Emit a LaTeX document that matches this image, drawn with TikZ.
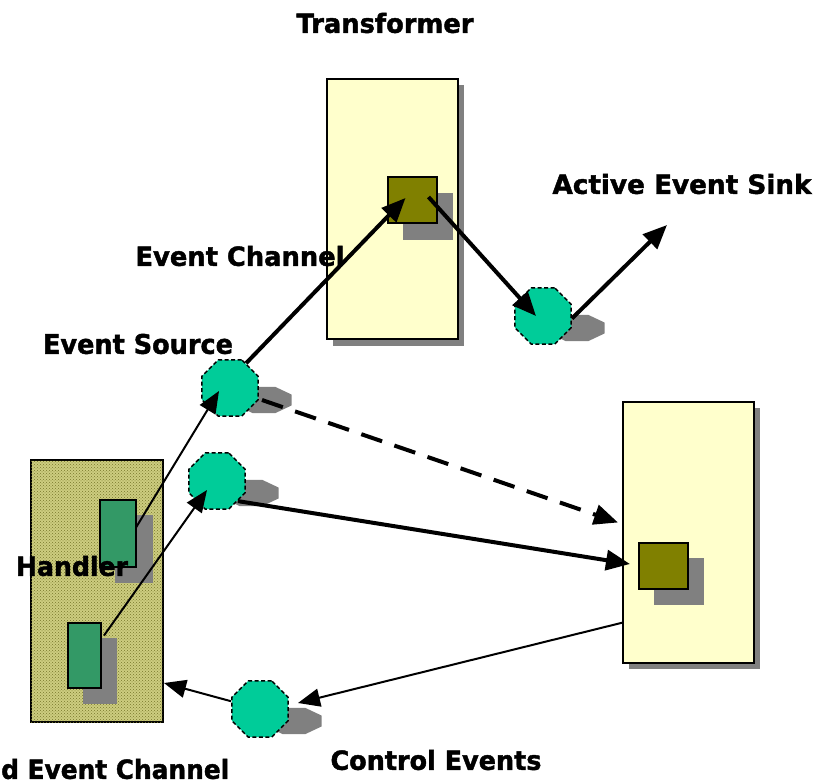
\documentclass[tikz,border=0pt]{standalone}
\usepackage{fontspec}
\setmainfont{DejaVu Sans}[BoldFeatures={FakeBold=1.6}]
\usetikzlibrary{shapes.geometric,arrows.meta,patterns,calc}
\definecolor{paleyellow}{HTML}{FFFFCC}
\definecolor{olivebox}{HTML}{808000}
\definecolor{portteal}{HTML}{00CC99}
\definecolor{handlergreen}{HTML}{339966}
\definecolor{shadowgray}{HTML}{808080}
\definecolor{channelfill}{HTML}{CDCD80}
\definecolor{channeldots}{HTML}{77772A}
% label set in a heavy face, stretched to a given width
\newcommand\lbl[2]{\resizebox{#1pt}{20pt}{\bfseries #2}}
% flattened octagonal drop shadow behind a port
\newcommand\portshadow[1]{%
  \fill[shadowgray, shift={#1}, yscale=0.47]
    (22.5:30) -- (67.5:30) -- (112.5:30) -- (157.5:30) -- (202.5:30)
    -- (247.5:30) -- (292.5:30) -- (337.5:30) -- cycle;}
\begin{document}
\begin{tikzpicture}[x=1pt,y=-1pt,
  box/.style={rectangle, draw=black, line width=1.6pt, inner sep=0pt, outer sep=0pt},
  component/.style={box, fill=paleyellow, minimum width=131pt, minimum height=260pt},
  filter/.style={box, fill=olivebox, minimum width=49pt, minimum height=46pt},
  handlerbox/.style={box, fill=handlergreen},
  port/.style={regular polygon, regular polygon sides=8, minimum size=61pt,
    inner sep=0pt, fill=portteal, draw=black, line width=1.5pt,
    dash pattern=on 4pt off 2.5pt},
  bigarrow/.style={line width=4pt, -{Triangle[length=24pt,width=20pt]}},
  smallarrow/.style={line width=2pt, -{Triangle[length=22pt,width=18pt]}},
  caption/.style={inner sep=0pt}]
\useasboundingbox (0,0) rectangle (815,784);

% drop shadows of the components
\fill[shadowgray] (333,85) rectangle (464,346);
\fill[shadowgray] (629,408) rectangle (760,669);

% transformer
\node[component] (trans) at (392.5,209) {};
\fill[shadowgray] (403,193) rectangle (453,240);
\node[filter] (sq1) at (412.5,200) {};

% consumer on the right
\node[component, minimum height=261pt] (rr) at (688.5,532.5) {};
\fill[shadowgray] (654,558) rectangle (704,605);
\node[filter] (sq2) at (663.5,566) {};

% shared event channel with its handlers
\node[box, minimum width=132pt, minimum height=262pt, fill=channelfill,
  postaction={pattern=crosshatch dots, pattern color=channeldots}] (lr) at (97,591) {};
\fill[shadowgray] (115,515) rectangle (153,583);
\node[handlerbox, minimum width=36pt, minimum height=67pt] (g1) at (118,533.5) {};
\fill[shadowgray] (83,638) rectangle (117,704);
\node[handlerbox, minimum width=33pt, minimum height=65pt] (g2) at (84.5,655.5) {};

% ports
\portshadow{(264,400)}
\portshadow{(251,493)}
\portshadow{(577,328)}
\portshadow{(294,721)}
\node[port] (o1) at (230,388) {};
\node[port] (o2) at (217,481) {};
\node[port] (o4) at (543,316) {};
\node[port] (o3) at (260,709) {};

% connector ends
\coordinate (t1) at ($(sq1.center)+(-7,-2)$);
\coordinate (s2) at ($(sq1.center)+(16,-3)$);
\coordinate (t2) at ($(o4.center)+(-7,0)$);
\coordinate (t3) at (667,225);
\coordinate (s4) at ($(o1.center)+(32,12)$);
\coordinate (t4) at ($(rr.west)+(-5,-10)$);
\coordinate (t5) at ($(sq2.west)+(-9,-2)$);
\coordinate (s6) at ($(g1.east)+(0,-6)$);
\coordinate (t6) at ($(o1.center)+(-11,3)$);
\coordinate (s7) at ($(g2.east)+(3,-20)$);
\coordinate (t7) at ($(o2.center)+(-10,9)$);
\coordinate (s8) at ($(rr.west)+(0,90)$);
\coordinate (t8) at ($(o3.center)+(38,-6)$);
\coordinate (t9) at ($(lr.east)+(1,92)$);

% event flow
\draw[bigarrow] (o1.57) -- (t1);
\draw[bigarrow] (s2) -- (t2);
\draw[bigarrow] (o4.-5) -- (t3);
\draw[bigarrow, dash pattern=on 22pt off 13pt] (s4) -- (t4);
\draw[bigarrow] (o2.-44) -- (t5);
\draw[smallarrow] (s6) -- (t6);
\draw[smallarrow] (s7) -- (t7);
\draw[smallarrow] (s8) -- (t8);
\draw[smallarrow] (o3.165) -- (t9);

% captions
\node[caption] (capTrans) at (385,23) {\lbl{177}{Transformer}};
\node[caption] (capSink) at (682,184) {\lbl{259}{Active Event Sink}};
\node[caption] (capChan) at (240,256) {\lbl{209}{Event Channel}};
\node[caption] (capSrc) at (138,344) {\lbl{190}{Event Source}};
\node[caption] (capHandler) at (72,566) {\lbl{112}{Handler}};
\node[caption] (capCtrl) at (436,760) {\lbl{211}{Control Events}};
\node[caption, anchor=west] (capShared) at (1,769) {\lbl{228}{d Event Channel}};
\end{tikzpicture}
\end{document}
